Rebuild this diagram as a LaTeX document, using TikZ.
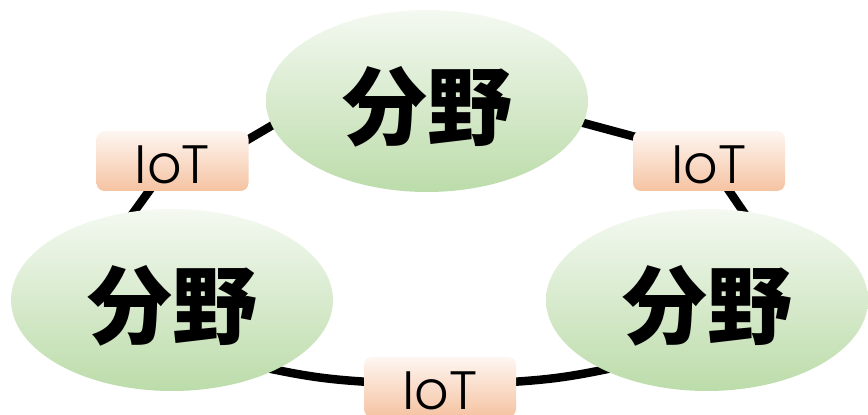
\documentclass[tikz,border=0pt]{standalone}
\usepackage{fontspec}
\usetikzlibrary{shapes.geometric,backgrounds}
\newfontfamily\cjk{Noto Sans CJK JP Black}
\newfontfamily\iotfont{Poppins Light}
\definecolor{fieldtop}{HTML}{F4F9F1}
\definecolor{fieldbot}{HTML}{BCDCAA}
\definecolor{tagtop}{HTML}{FEF6F2}
\definecolor{tagbot}{HTML}{F5C3A1}

\begin{document}
\begin{tikzpicture}[x=1pt,y=1pt,
    field/.style = {ellipse, minimum width=322pt, minimum height=182pt, inner sep=0pt,
                    top color=fieldtop, bottom color=fieldbot,
                    text height=75pt, text depth=0pt,
                    font=\cjk\fontsize{85}{85}\selectfont},
    tag/.style   = {rectangle, rounded corners=8pt, minimum width=152pt, minimum height=60pt,
                    inner sep=0pt, top color=tagtop, bottom color=tagbot,
                    text height=45pt, text depth=0pt,
                    font=\iotfont\fontsize{54}{54}\selectfont},
    ring/.style  = {line width=8.5pt, shorten <=-6pt, shorten >=-6pt}]

      \useasboundingbox (0,0) rectangle (868,415);

      % Fields
      \node[field] (top)   at (427,314) {分野};
      \node[field] (left)  at (172,115) {分野};
      \node[field] (right) at (707,115) {分野};

      % IoT tags between the fields
      \node[tag] (iotL) at (172.5,254) {IoT};
      \node[tag] (iotR) at (709,254)   {IoT};
      \node[tag] (iotB) at (440,28)    {IoT};

      % Ring behind everything
      \begin{scope}[on background layer]
            \draw[ring] (top.189)   -- (iotL.16);
            \draw[ring] (iotL.232)  -- (left.113);
            \draw[ring] (left.326)  to[bend right=4] (iotB.176);
            \draw[ring] (iotB.4)    to[bend right=4] (right.214);
            \draw[ring] (right.68)  -- (iotR.304);
            \draw[ring] (iotR.162)  -- (top.352);
      \end{scope}

\end{tikzpicture}
\end{document}
